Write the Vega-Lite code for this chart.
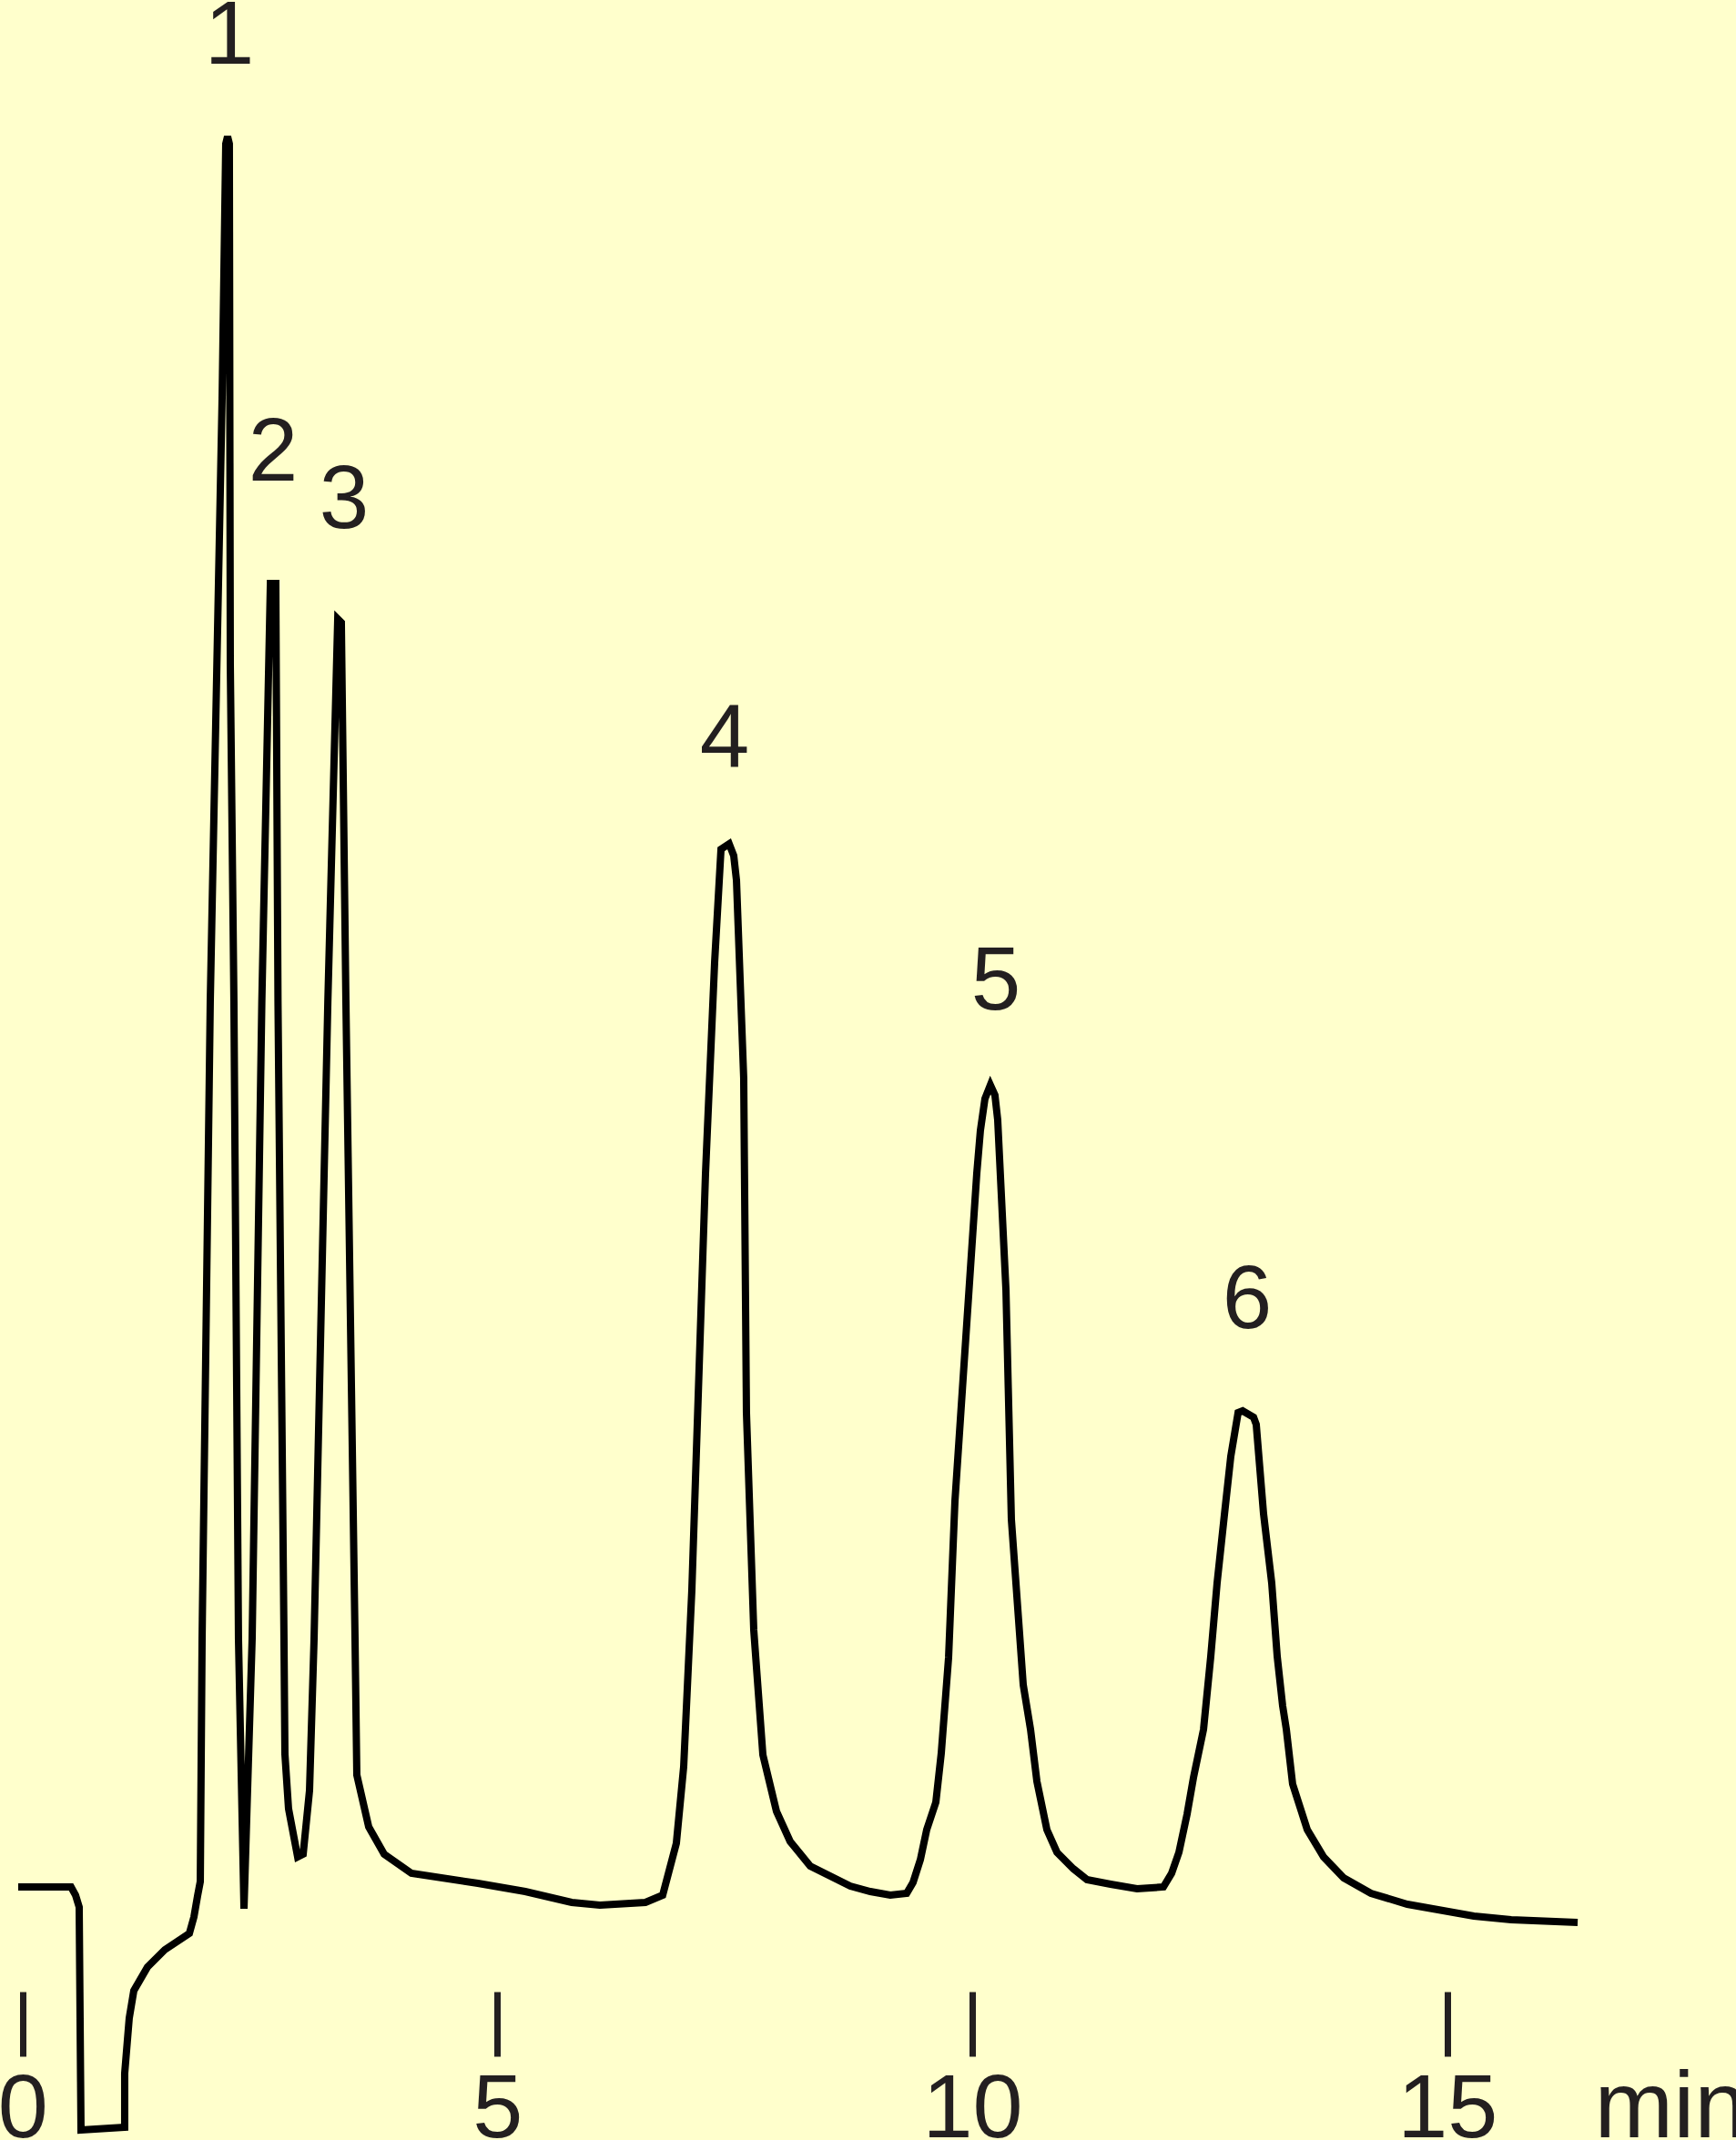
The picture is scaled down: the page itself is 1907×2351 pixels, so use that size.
{
  "$schema": "https://vega.github.io/schema/vega-lite/v6.json",
  "autosize": {"type": "none"},
  "width": 1907,
  "height": 2188,
  "padding": {"left": 0, "top": 0, "right": 0, "bottom": 163},
  "background": "#FFFFCC",
  "config": {"view": {"stroke": null}},
  "datasets": {
    "trace": [
      {"i": 1, "t": -0.045, "v": 5.256},
      {"i": 2, "t": 0.511, "v": 5.256},
      {"i": 3, "t": 0.559, "v": 4.845},
      {"i": 4, "t": 0.597, "v": 4.250},
      {"i": 5, "t": 0.616, "v": -6.947},
      {"i": 6, "t": 1.076, "v": -6.810},
      {"i": 7, "t": 1.076, "v": -4.113},
      {"i": 8, "t": 1.124, "v": -1.325},
      {"i": 9, "t": 1.172, "v": 0.046},
      {"i": 10, "t": 1.316, "v": 1.234},
      {"i": 11, "t": 1.498, "v": 2.102},
      {"i": 12, "t": 1.757, "v": 2.925},
      {"i": 13, "t": 1.805, "v": 3.748},
      {"i": 14, "t": 1.843, "v": 4.799},
      {"i": 15, "t": 1.872, "v": 5.530},
      {"i": 16, "t": 1.891, "v": 17.733},
      {"i": 17, "t": 1.977, "v": 49.726},
      {"i": 18, "t": 2.102, "v": 80.073},
      {"i": 19, "t": 2.140, "v": 92.779},
      {"i": 20, "t": 2.159, "v": 93.145},
      {"i": 21, "t": 2.178, "v": 92.779},
      {"i": 22, "t": 2.188, "v": 66.636},
      {"i": 23, "t": 2.226, "v": 49.726},
      {"i": 24, "t": 2.274, "v": 17.733},
      {"i": 25, "t": 2.332, "v": 4.159},
      {"i": 26, "t": 2.418, "v": 17.733},
      {"i": 27, "t": 2.520, "v": 49.726},
      {"i": 28, "t": 2.610, "v": 70.704},
      {"i": 29, "t": 2.667, "v": 70.704},
      {"i": 30, "t": 2.690, "v": 49.726},
      {"i": 31, "t": 2.753, "v": 17.733},
      {"i": 32, "t": 2.763, "v": 11.929},
      {"i": 33, "t": 2.801, "v": 9.187},
      {"i": 34, "t": 2.897, "v": 6.764},
      {"i": 35, "t": 2.955, "v": 6.901},
      {"i": 36, "t": 3.022, "v": 10.101},
      {"i": 37, "t": 3.070, "v": 17.733},
      {"i": 38, "t": 3.215, "v": 49.726},
      {"i": 39, "t": 3.319, "v": 68.922},
      {"i": 40, "t": 3.357, "v": 68.739},
      {"i": 41, "t": 3.405, "v": 49.726},
      {"i": 42, "t": 3.501, "v": 17.733},
      {"i": 43, "t": 3.520, "v": 10.878},
      {"i": 44, "t": 3.645, "v": 8.272},
      {"i": 45, "t": 3.808, "v": 6.901},
      {"i": 46, "t": 4.095, "v": 5.942},
      {"i": 47, "t": 4.795, "v": 5.439},
      {"i": 48, "t": 5.293, "v": 5.027},
      {"i": 49, "t": 5.782, "v": 4.479},
      {"i": 50, "t": 6.079, "v": 4.342},
      {"i": 51, "t": 6.558, "v": 4.479},
      {"i": 52, "t": 6.740, "v": 4.845},
      {"i": 53, "t": 6.884, "v": 7.450},
      {"i": 54, "t": 6.961, "v": 11.289},
      {"i": 55, "t": 7.047, "v": 20.155},
      {"i": 56, "t": 7.191, "v": 41.088},
      {"i": 57, "t": 7.287, "v": 51.691},
      {"i": 58, "t": 7.354, "v": 57.359},
      {"i": 59, "t": 7.440, "v": 57.633},
      {"i": 60, "t": 7.488, "v": 57.039},
      {"i": 61, "t": 7.517, "v": 55.805},
      {"i": 62, "t": 7.593, "v": 45.887},
      {"i": 63, "t": 7.622, "v": 29.068},
      {"i": 64, "t": 7.699, "v": 18.144},
      {"i": 65, "t": 7.795, "v": 11.883},
      {"i": 66, "t": 7.938, "v": 9.049},
      {"i": 67, "t": 8.082, "v": 7.541},
      {"i": 68, "t": 8.293, "v": 6.307},
      {"i": 69, "t": 8.715, "v": 5.302},
      {"i": 70, "t": 8.926, "v": 5.027},
      {"i": 71, "t": 9.136, "v": 4.845},
      {"i": 72, "t": 9.309, "v": 4.936},
      {"i": 73, "t": 9.376, "v": 5.484},
      {"i": 74, "t": 9.453, "v": 6.627},
      {"i": 75, "t": 9.520, "v": 8.135},
      {"i": 76, "t": 9.616, "v": 9.506},
      {"i": 77, "t": 9.673, "v": 11.974},
      {"i": 78, "t": 9.750, "v": 16.773},
      {"i": 79, "t": 9.817, "v": 24.634},
      {"i": 80, "t": 9.951, "v": 34.232},
      {"i": 81, "t": 10.047, "v": 41.088},
      {"i": 82, "t": 10.085, "v": 43.236},
      {"i": 83, "t": 10.133, "v": 44.836},
      {"i": 84, "t": 10.190, "v": 45.521},
      {"i": 85, "t": 10.238, "v": 45.018},
      {"i": 86, "t": 10.267, "v": 43.784},
      {"i": 87, "t": 10.354, "v": 35.238},
      {"i": 88, "t": 10.411, "v": 23.720},
      {"i": 89, "t": 10.536, "v": 15.402},
      {"i": 90, "t": 10.613, "v": 13.163},
      {"i": 91, "t": 10.680, "v": 10.558},
      {"i": 92, "t": 10.785, "v": 8.135},
      {"i": 93, "t": 10.891, "v": 6.993},
      {"i": 94, "t": 11.063, "v": 6.170},
      {"i": 95, "t": 11.207, "v": 5.622},
      {"i": 96, "t": 11.456, "v": 5.393},
      {"i": 97, "t": 11.734, "v": 5.165},
      {"i": 98, "t": 12.012, "v": 5.256},
      {"i": 99, "t": 12.098, "v": 5.942},
      {"i": 100, "t": 12.175, "v": 6.993},
      {"i": 101, "t": 12.261, "v": 8.912},
      {"i": 102, "t": 12.328, "v": 10.740},
      {"i": 103, "t": 12.434, "v": 13.163},
      {"i": 104, "t": 12.510, "v": 16.819},
      {"i": 105, "t": 12.577, "v": 20.521},
      {"i": 106, "t": 12.654, "v": 23.949},
      {"i": 107, "t": 12.721, "v": 26.874},
      {"i": 108, "t": 12.798, "v": 29.068},
      {"i": 109, "t": 12.846, "v": 29.159},
      {"i": 110, "t": 12.961, "v": 28.839},
      {"i": 111, "t": 12.989, "v": 28.474},
      {"i": 112, "t": 13.066, "v": 23.995},
      {"i": 113, "t": 13.152, "v": 20.521},
      {"i": 114, "t": 13.210, "v": 16.819},
      {"i": 115, "t": 13.267, "v": 14.351},
      {"i": 116, "t": 13.306, "v": 13.163},
      {"i": 117, "t": 13.372, "v": 10.421},
      {"i": 118, "t": 13.526, "v": 8.135},
      {"i": 119, "t": 13.698, "v": 6.764},
      {"i": 120, "t": 13.909, "v": 5.713},
      {"i": 121, "t": 14.197, "v": 4.936},
      {"i": 122, "t": 14.580, "v": 4.388},
      {"i": 123, "t": 15.280, "v": 3.793},
      {"i": 124, "t": 15.673, "v": 3.611},
      {"i": 125, "t": 16.373, "v": 3.474}
    ],
    "peaks": [
      {"label": "1", "t": 2.178, "v": 96.80},
      {"label": "2", "t": 2.638, "v": 75.87},
      {"label": "3", "t": 3.386, "v": 73.49},
      {"label": "4", "t": 7.392, "v": 61.52},
      {"label": "5", "t": 10.248, "v": 49.31},
      {"label": "6", "t": 12.893, "v": 33.32}
    ]
  },
  "layer": [
    {
      "data": {"name": "trace"},
      "mark": {"type": "line", "color": "#000000", "strokeWidth": 8, "strokeJoin": "miter", "strokeCap": "butt", "clip": false},
      "encoding": {
        "x": {
          "field": "t", "type": "quantitative",
          "scale": {"domain": [-0.2367, 18.04], "nice": false, "zero": false},
          "axis": {
            "values": [0, 5, 10, 15],
            "format": "d",
            "domain": false, "grid": false,
            "tickSize": 71, "tickWidth": 7, "tickColor": "#231F20",
            "labelFont": "Liberation Sans", "labelFontSize": 99, "labelColor": "#231F20",
            "labelPadding": 88, "labelBaseline": "alphabetic", "labelAlign": "center",
            "labelFlush": false, "labelOverlap": false, "labelLimit": 0, "labelBound": false,
            "title": "min",
            "titleFont": "Liberation Sans", "titleFontSize": 104, "titleFontWeight": "normal",
            "titleColor": "#231F20", "titleX": 1751, "titleY": 159, "titleLimit": 0,
            "titleAlign": "left", "titleBaseline": "alphabetic", "titleAnchor": "start"
          }
        },
        "y": {
          "field": "v", "type": "quantitative",
          "scale": {"domain": [0, 100], "nice": false, "zero": false},
          "axis": null
        },
        "order": {"field": "i", "type": "quantitative"}
      }
    },
    {
      "data": {"name": "peaks"},
      "mark": {"type": "text", "font": "Liberation Sans", "fontSize": 98, "color": "#231F20", "align": "center", "baseline": "alphabetic", "clip": false},
      "encoding": {
        "x": {"field": "t", "type": "quantitative"},
        "y": {"field": "v", "type": "quantitative"},
        "text": {"field": "label"}
      }
    }
  ]
}
